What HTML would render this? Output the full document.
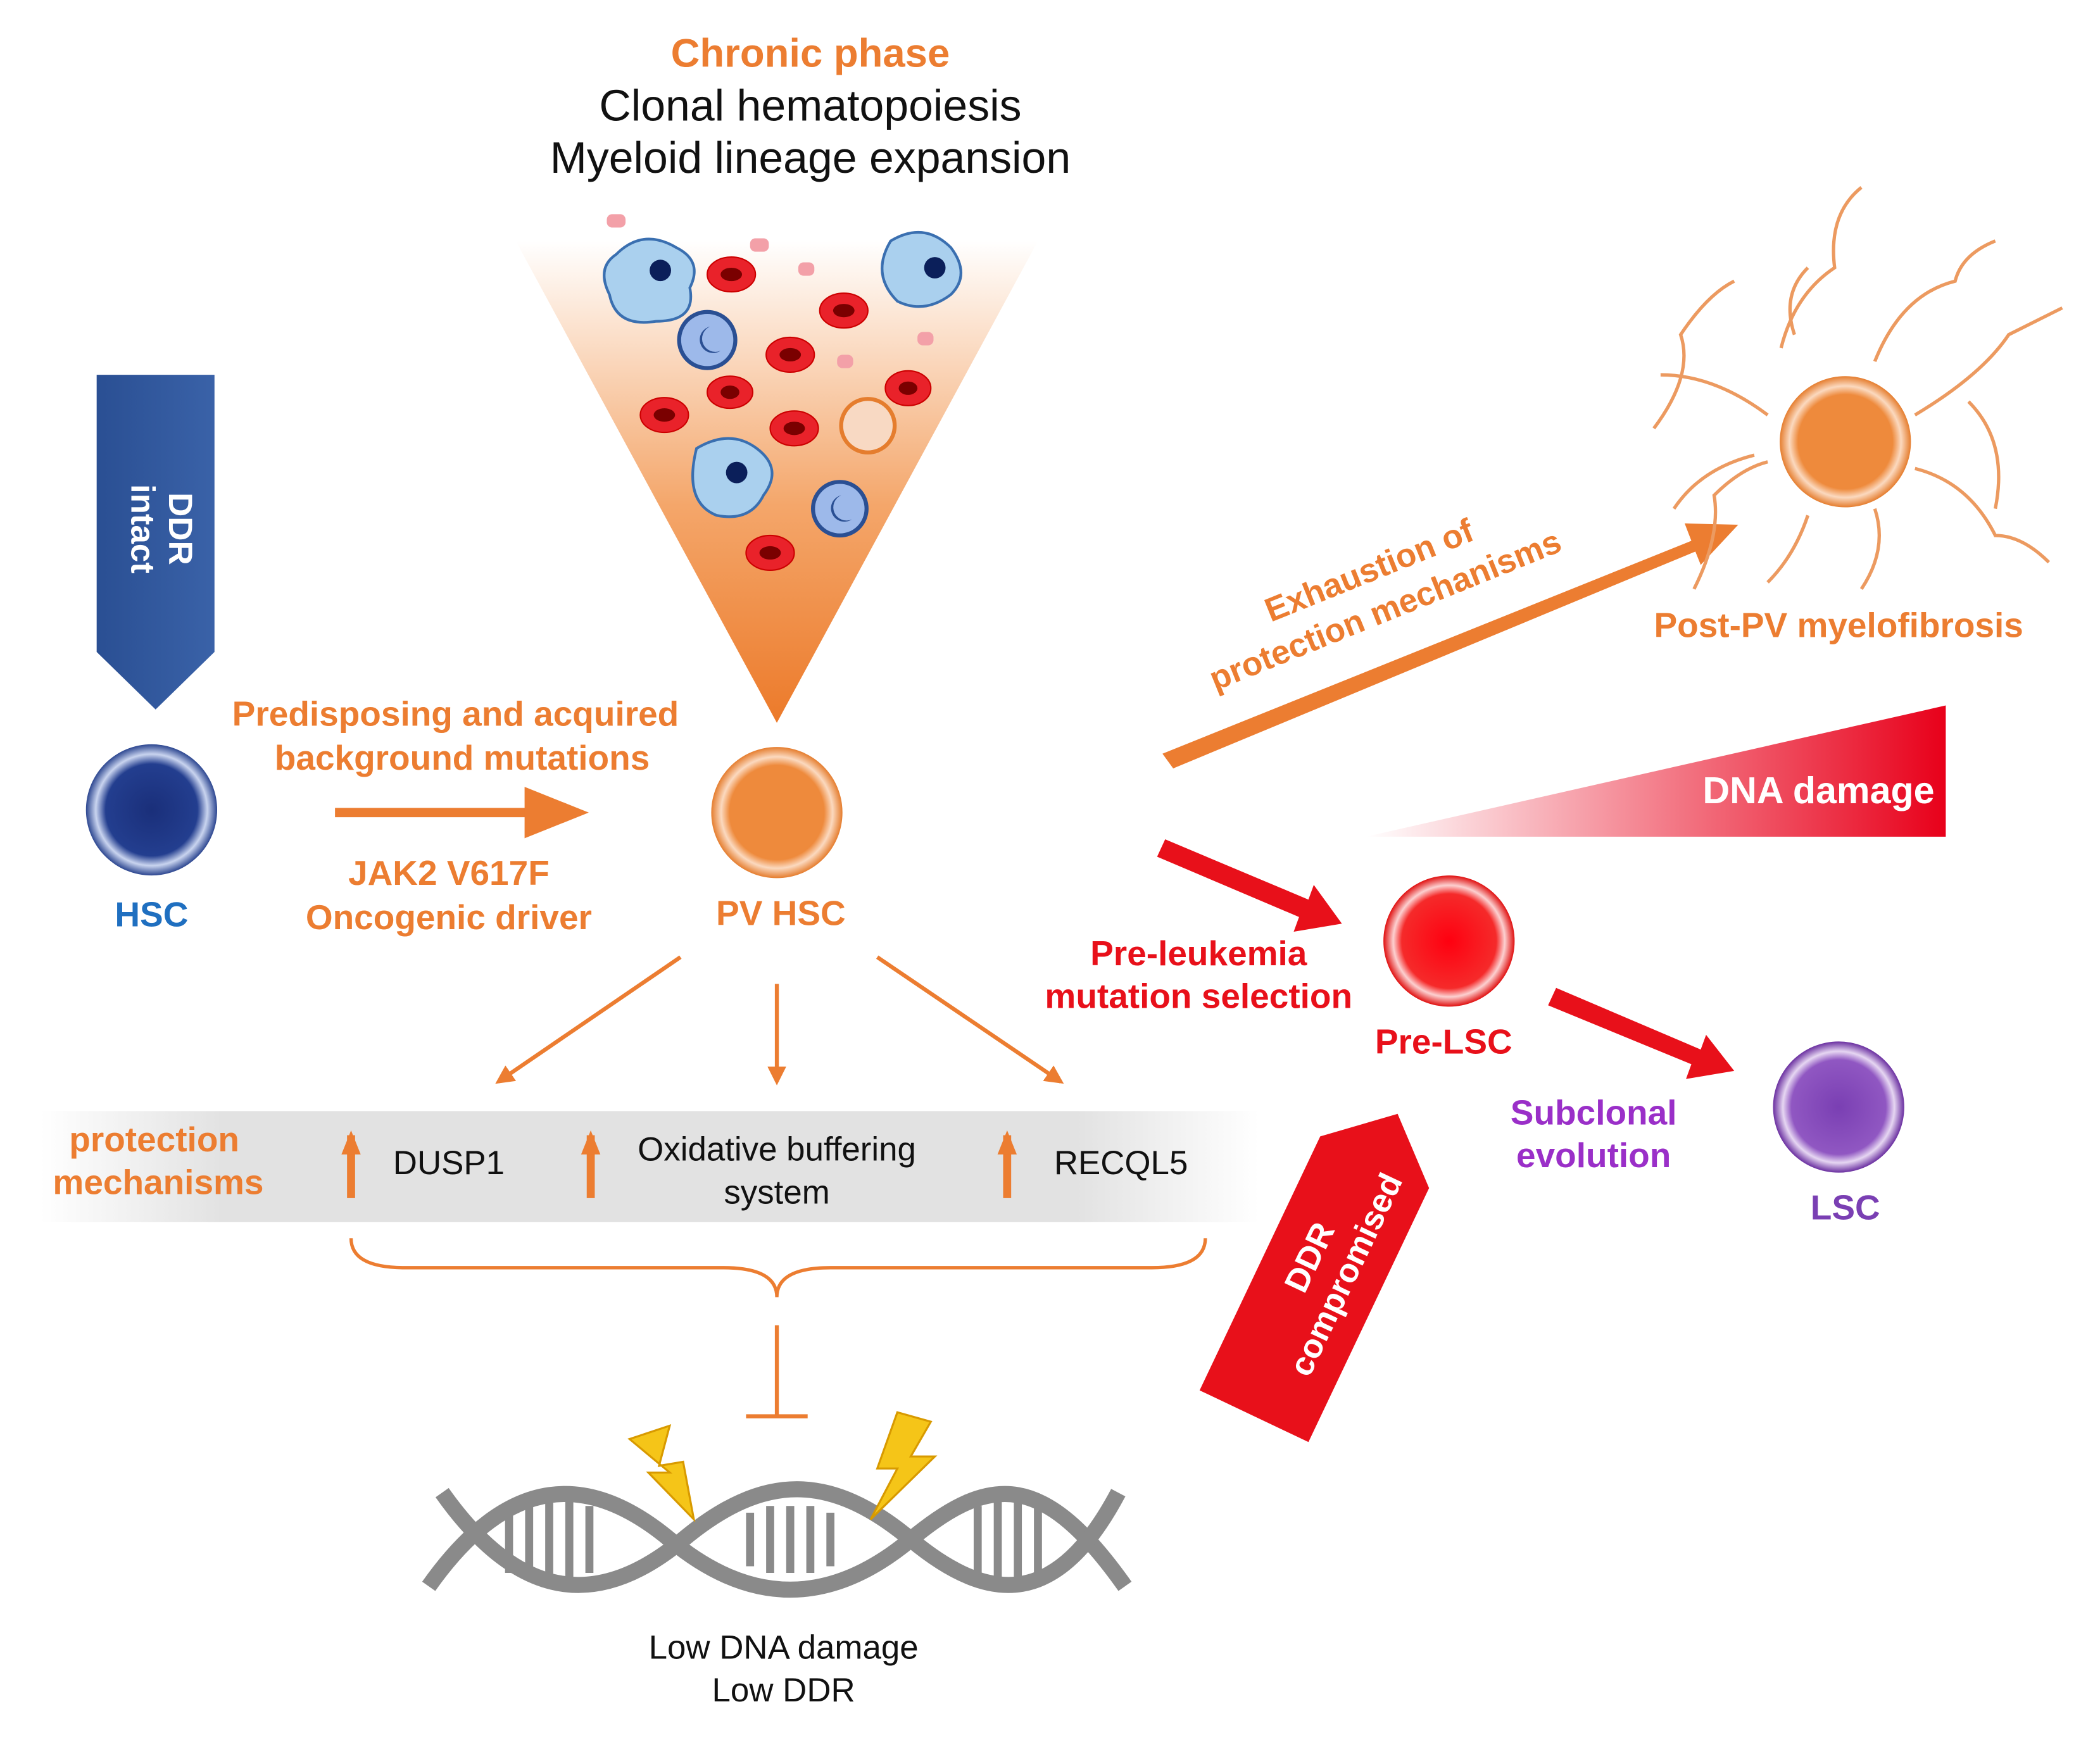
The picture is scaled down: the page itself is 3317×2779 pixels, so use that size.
<!DOCTYPE html>
<html><head><meta charset="utf-8"><style>
html,body{margin:0;padding:0;background:#fff;}
svg{display:block;}
text{font-family:"Liberation Sans",Arial,sans-serif;}
</style></head><body>
<svg width="3317" height="2779" viewBox="0 0 1568 1314" xmlns="http://www.w3.org/2000/svg">
<defs>
<linearGradient id="tri" x1="0" y1="0" x2="0" y2="1"><stop offset="0" stop-color="#fff"/><stop offset="0.55" stop-color="#f4a66a"/><stop offset="1" stop-color="#ec7a2a"/></linearGradient>
<linearGradient id="band" x1="0" y1="0" x2="1" y2="0"><stop offset="0" stop-color="#fff"/><stop offset="0.15" stop-color="#e2e2e2"/><stop offset="0.85" stop-color="#e2e2e2"/><stop offset="1" stop-color="#fff"/></linearGradient>
<linearGradient id="wedge" x1="0" y1="0" x2="1" y2="0"><stop offset="0" stop-color="#fff"/><stop offset="1" stop-color="#e8001a"/></linearGradient>
<linearGradient id="blue" x1="0" y1="0" x2="1" y2="0"><stop offset="0" stop-color="#2a4f93"/><stop offset="1" stop-color="#3a62a8"/></linearGradient>
<radialGradient id="hsc"><stop offset="0" stop-color="#1a2f7a"/><stop offset="0.7" stop-color="#233e8f"/><stop offset="0.85" stop-color="#c9d4ef"/><stop offset="1" stop-color="#2c4690"/></radialGradient>
<radialGradient id="pv"><stop offset="0" stop-color="#ee8a3c"/><stop offset="0.72" stop-color="#ee8a3c"/><stop offset="0.85" stop-color="#fbd9bf"/><stop offset="1" stop-color="#e57d2e"/></radialGradient>
<radialGradient id="red"><stop offset="0" stop-color="#ff0010"/><stop offset="0.72" stop-color="#f52a2a"/><stop offset="0.85" stop-color="#fcd0d0"/><stop offset="1" stop-color="#e01010"/></radialGradient>
<radialGradient id="pur"><stop offset="0" stop-color="#7a3fb3"/><stop offset="0.72" stop-color="#9057c2"/><stop offset="0.85" stop-color="#e6d6f2"/><stop offset="1" stop-color="#6a2fa0"/></radialGradient>
<marker id="oa" viewBox="0 0 10 10" refX="8" refY="5" markerWidth="14" markerHeight="14" markerUnits="userSpaceOnUse" orient="auto"><path d="M0,0L10,5L0,10z" fill="#ec7d31"/></marker>
<marker id="ot" viewBox="0 0 10 10" refX="8" refY="5" markerWidth="48" markerHeight="48" markerUnits="userSpaceOnUse" orient="auto"><path d="M0,1L10,5L0,9z" fill="#ec7d31"/></marker>
<marker id="up" viewBox="0 0 10 10" refX="8" refY="5" markerWidth="18" markerHeight="18" markerUnits="userSpaceOnUse" orient="auto"><path d="M0,1L10,5L0,9z" fill="#ec7d31"/></marker>
</defs>

<rect x="30" y="830" width="910" height="83" fill="url(#band)"/>

<text x="605" y="50" text-anchor="middle" font-size="30" font-weight="bold" fill="#ec7d31">Chronic phase</text>
<text x="605" y="90" text-anchor="middle" font-size="33" fill="#111">Clonal hematopoiesis</text>
<text x="605" y="129" text-anchor="middle" font-size="33" fill="#111">Myeloid lineage expansion</text>

<polygon points="385,180 775,180 580,540" fill="url(#tri)"/>
<g fill="#aad0ee" stroke="#3a6fb0" stroke-width="2">
<path d="M460,190 q20,-20 45,-5 q20,10 10,30 q5,25 -25,25 q-30,5 -35,-20 q-10,-20 5,-30z"/>
<path d="M665,180 q25,-15 45,5 q15,20 0,35 q-20,15 -40,5 q-20,-20 -5,-45z"/>
<path d="M520,335 q25,-15 45,0 q20,15 5,35 q-10,20 -35,15 q-25,-10 -15,-50z"/>
</g>
<g fill="#0b1f5a"><circle cx="493" cy="202" r="8"/><circle cx="698" cy="200" r="8"/><circle cx="550" cy="353" r="8"/></g>
<g fill="#9db9ea" stroke="#2a4f93" stroke-width="3"><circle cx="528" cy="254" r="21"/><circle cx="627" cy="380" r="20"/></g>
<g fill="#2a4f93"><path d="M530,244 a10,10 0 1,0 8,18 a7,7 0 1,1 -8,-18z"/><path d="M628,370 a10,10 0 1,0 8,18 a7,7 0 1,1 -8,-18z"/></g>
<g fill="#e9222a" stroke="#c00" stroke-width="1">
<ellipse cx="546" cy="205" rx="18" ry="13"/><ellipse cx="630" cy="232" rx="18" ry="13"/><ellipse cx="590" cy="265" rx="18" ry="13"/>
<ellipse cx="496" cy="310" rx="18" ry="13"/><ellipse cx="593" cy="320" rx="18" ry="13"/><ellipse cx="545" cy="293" rx="17" ry="12"/>
<ellipse cx="678" cy="290" rx="17" ry="13"/><ellipse cx="575" cy="413" rx="18" ry="13"/>
</g>
<g fill="#7a0000"><ellipse cx="546" cy="205" rx="8" ry="5"/><ellipse cx="630" cy="232" rx="8" ry="5"/><ellipse cx="590" cy="265" rx="8" ry="5"/><ellipse cx="496" cy="310" rx="8" ry="5"/><ellipse cx="593" cy="320" rx="8" ry="5"/><ellipse cx="545" cy="293" rx="7" ry="5"/><ellipse cx="678" cy="290" rx="7" ry="5"/><ellipse cx="575" cy="413" rx="8" ry="5"/></g>
<circle cx="648" cy="318" r="20" fill="#f8d9c3" stroke="#e57d2e" stroke-width="3"/>
<g fill="#f3a0a8"><rect x="453" y="160" width="14" height="10" rx="4"/><rect x="560" y="178" width="14" height="10" rx="4"/><rect x="596" y="196" width="12" height="10" rx="4"/><rect x="625" y="265" width="12" height="10" rx="4"/><rect x="685" y="248" width="12" height="10" rx="4"/></g>

<path d="M72,280 H160 V487 L116,530 L72,487 Z" fill="url(#blue)"/>
<text transform="translate(126,395) rotate(90)" text-anchor="middle" font-size="25" font-weight="bold" fill="#fff">DDR</text>
<text transform="translate(98,395) rotate(90)" text-anchor="middle" font-size="25" font-weight="bold" fill="#fff">intact</text>

<circle cx="113" cy="605" r="49" fill="url(#hsc)"/>
<text x="113" y="692" text-anchor="middle" font-size="26" font-weight="bold" fill="#1f6fc0">HSC</text>

<g font-size="26" font-weight="bold" fill="#ec7d31" text-anchor="middle">
<text x="340" y="542">Predisposing and acquired</text>
<text x="345" y="575">background mutations</text>
<text x="335" y="661">JAK2 V617F</text>
<text x="335" y="694">Oncogenic driver</text>
<text x="583" y="691">PV HSC</text>
<text x="115" y="860">protection</text>
<text x="118" y="892">mechanisms</text>
<text x="1373" y="476">Post-PV myelofibrosis</text>
</g>
<line x1="250" y1="607" x2="430" y2="607" stroke="#ec7d31" stroke-width="7" marker-end="url(#ot)"/>
<circle cx="580" cy="607" r="49" fill="url(#pv)"/>

<g stroke="#ec7d31" stroke-width="3" marker-end="url(#oa)">
<line x1="508" y1="715" x2="372" y2="808"/><line x1="580" y1="735" x2="580" y2="808"/><line x1="655" y1="715" x2="792" y2="808"/>
</g>

<g stroke="#ec7d31" stroke-width="6" marker-end="url(#up)"><line x1="262" y1="895" x2="262" y2="848"/><line x1="441" y1="895" x2="441" y2="848"/><line x1="752" y1="895" x2="752" y2="848"/></g>
<g font-size="25" fill="#111" text-anchor="middle">
<text x="335" y="877">DUSP1</text><text x="580" y="867">Oxidative buffering</text><text x="580" y="899">system</text><text x="837" y="877">RECQL5</text>
<text x="585" y="1239">Low DNA damage</text><text x="585" y="1271">Low DDR</text>
</g>
<path d="M262,925 q0,22 40,22 H540 q40,0 40,22 q0,-22 40,-22 H860 q40,0 40,-22" fill="none" stroke="#ec7d31" stroke-width="2.5"/>
<line x1="580" y1="990" x2="580" y2="1058" stroke="#ec7d31" stroke-width="3"/><line x1="557" y1="1058" x2="603" y2="1058" stroke="#ec7d31" stroke-width="3"/>

<g fill="none" stroke="#8a8a8a" stroke-width="12">
<path d="M320,1185 C380,1100 440,1100 500,1150 S620,1200 680,1150 S780,1100 840,1185"/>
<path d="M330,1115 C390,1200 450,1200 510,1150 S620,1100 680,1150 S790,1200 835,1115"/>
</g>
<g stroke="#8a8a8a" stroke-width="6">
<line x1="380" y1="1125" x2="380" y2="1175"/><line x1="395" y1="1120" x2="395" y2="1180"/><line x1="410" y1="1118" x2="410" y2="1182"/><line x1="425" y1="1120" x2="425" y2="1180"/><line x1="440" y1="1125" x2="440" y2="1175"/>
<line x1="560" y1="1130" x2="560" y2="1170"/><line x1="575" y1="1125" x2="575" y2="1175"/><line x1="590" y1="1125" x2="590" y2="1175"/><line x1="605" y1="1125" x2="605" y2="1175"/><line x1="620" y1="1130" x2="620" y2="1170"/>
<line x1="730" y1="1125" x2="730" y2="1175"/><line x1="745" y1="1120" x2="745" y2="1180"/><line x1="760" y1="1120" x2="760" y2="1180"/><line x1="775" y1="1125" x2="775" y2="1175"/>
</g>
<g fill="#f5c518" stroke="#d89a00" stroke-width="1.5">
<polygon points="470,1075 500,1065 492,1095 510,1092 518,1135 484,1100 500,1100"/>
<polygon points="670,1055 695,1062 680,1088 698,1088 650,1135 670,1097 655,1097"/>
</g>

<polygon points="868,563 1263,404 1258,391 1298,392 1270,422 1266,412 876,574" fill="#ec7d31"/>
<g transform="translate(1030,445) rotate(-22)" font-size="25" font-weight="bold" fill="#ec7d31" text-anchor="middle">
<text x="0" y="-12">Exhaustion of</text><text x="0" y="20">protection mechanisms</text></g>

<g fill="none" stroke="#ec9a60" stroke-width="2.5">
<path d="M1235,320 q30,-40 20,-70 q20,-30 40,-40"/><path d="M1250,380 q20,-30 60,-40"/><path d="M1265,440 q20,-40 15,-70 q20,-20 40,-25"/>
<path d="M1330,260 q10,-40 40,-60 q-5,-40 20,-60"/><path d="M1400,270 q20,-50 60,-60 q5,-20 30,-30"/><path d="M1430,310 q50,-30 70,-60 q20,-10 40,-20"/>
<path d="M1430,350 q40,10 60,50 q20,0 40,20"/><path d="M1400,380 q10,30 -10,60"/><path d="M1350,385 q-10,30 -30,50"/><path d="M1470,300 q30,30 20,80"/>
<path d="M1240,280 q40,0 80,30"/><path d="M1350,200 q-20,20 -10,50"/>
</g>
<circle cx="1378" cy="330" r="49" fill="url(#pv)"/>

<polygon points="1020,625 1453,527 1453,625" fill="url(#wedge)"/>
<text x="1358" y="600" text-anchor="middle" font-size="28" font-weight="bold" fill="#fff">DNA damage</text>

<polygon points="870,627 977,672 981,661 1002,690 966,696 970,685 864,640" fill="#e8101a"/>
<polygon points="1162,738 1270,784 1274,773 1295,800 1259,806 1263,795 1156,751" fill="#e8101a"/>
<circle cx="1082" cy="703" r="49" fill="url(#red)"/>
<circle cx="1373" cy="827" r="49" fill="url(#pur)"/>
<g font-size="26" font-weight="bold" text-anchor="middle">
<text x="1078" y="787" fill="#e8101a">Pre-LSC</text>
<text x="895" y="721" fill="#e8101a">Pre-leukemia</text>
<text x="895" y="753" fill="#e8101a">mutation selection</text>
<text x="1190" y="840" fill="#9a2fc8">Subclonal</text>
<text x="1190" y="872" fill="#9a2fc8">evolution</text>
<text x="1378" y="911" fill="#7a3fb3">LSC</text>
</g>

<g transform="translate(990,945) rotate(-64.6)">
<polygon points="-125,-45 85,-45 125,0 85,45 -125,45" fill="#e8101a"/>
<text x="0" y="-5" text-anchor="middle" font-size="25" font-weight="bold" fill="#fff">DDR</text>
<text x="0" y="25" text-anchor="middle" font-size="25" font-weight="bold" fill="#fff">compromised</text>
</g>
</svg>
</body></html>
